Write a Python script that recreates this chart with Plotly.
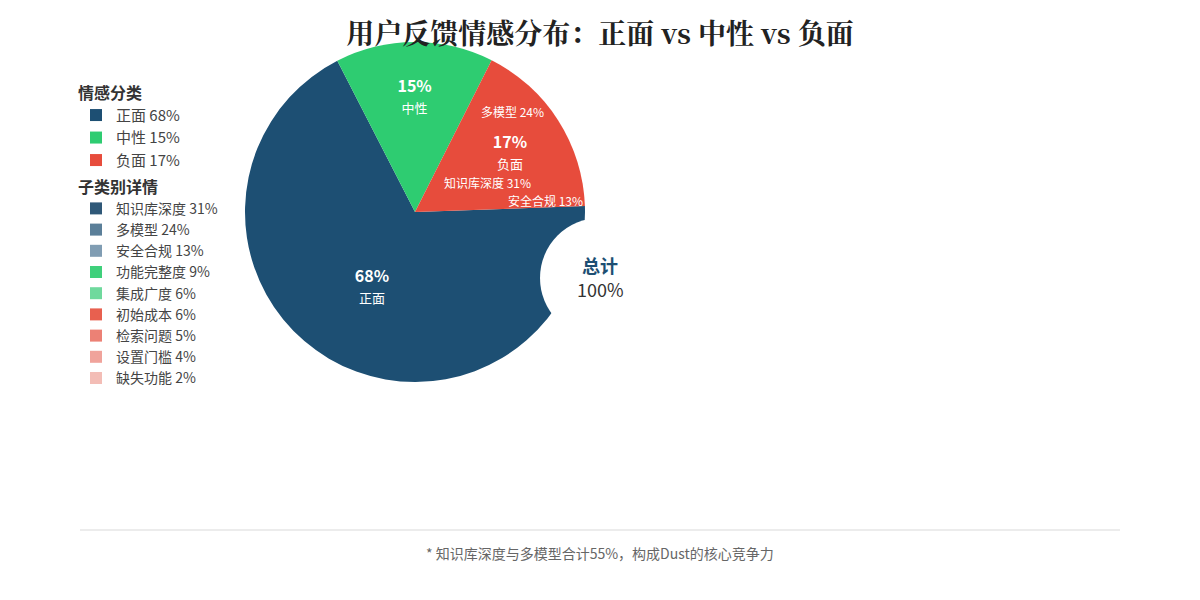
import plotly.graph_objects as go

# ---- data ----
sentiments = ["正面", "中性", "负面"]
sentiment_values = [68, 15, 17]
sentiment_colors = ["#1d4f73", "#2ecc71", "#e74c3c"]

subcategories = ["知识库深度", "多模型", "安全合规", "功能完整度", "集成广度",
                 "初始成本", "检索问题", "设置门槛", "缺失功能"]
sub_values = [31, 24, 13, 9, 6, 6, 5, 4, 2]
sub_colors = ["#2f5878", "#5b7f99", "#809db3", "#3fd07b", "#6fd99d",
              "#e8604f", "#ec8175", "#f0a39b", "#f3bdb6"]

title_text = "用户反馈情感分布：正面 vs 中性 vs 负面"
footnote = "* 知识库深度与多模型合计55%，构成Dust的核心竞争力"
center_title = "总计"
center_value = "100%"

W, H = 1200, 600
SANS = "Noto Sans CJK SC, Noto Sans, sans-serif"
SERIF = "Noto Serif CJK SC, Source Han Serif SC, serif"


def px_x(x):
    return x / W


def px_y(y):
    return 1 - y / H


fig = go.Figure()

# sub-category ring (legend2), centred on the "total" disc
cx2, cy2, r2 = 600, 278, 54
fig.add_trace(go.Pie(
    labels=[f"{n} {v}%" for n, v in zip(subcategories, sub_values)],
    values=sub_values,
    marker=dict(colors=sub_colors, line=dict(width=0)),
    sort=False, direction="clockwise", rotation=0,
    hole=0.6, textinfo="none", hoverinfo="label+percent",
    domain=dict(x=[px_x(cx2 - r2), px_x(cx2 + r2)], y=[px_y(cy2 + r2), px_y(cy2 - r2)]),
    legend="legend2", showlegend=True,
))

# main sentiment pie (legend)
cx, cy, r = 415, 212, 170
fig.add_trace(go.Pie(
    labels=[f"{n} {v}%" for n, v in zip(sentiments, sentiment_values)],
    values=sentiment_values,
    customdata=sentiments,
    marker=dict(colors=sentiment_colors, line=dict(width=0)),
    sort=False, direction="clockwise", rotation=88,
    texttemplate="<b>%{value}%</b><br><span style='font-size:13px'>%{customdata}</span>",
    textposition="inside", insidetextorientation="horizontal",
    textfont=dict(family=SANS, size=16, color="white"),
    hoverinfo="label+percent",
    domain=dict(x=[px_x(cx - r), px_x(cx + r)], y=[px_y(cy + r), px_y(cy - r)]),
    legend="legend", showlegend=True,
))

shapes = [
    dict(type="circle", xref="paper", yref="paper", layer="above",
         x0=px_x(cx2 - 60), x1=px_x(cx2 + 60), y0=px_y(cy2 + 60), y1=px_y(cy2 - 60),
         fillcolor="white", line=dict(width=0)),
    dict(type="line", xref="paper", yref="paper",
         x0=px_x(80), x1=px_x(1120), y0=px_y(530), y1=px_y(530),
         line=dict(color="#e6e6e6", width=1.5)),
]

annotations = [
    dict(text=f"<b>{center_title}</b>", x=px_x(600), y=px_y(265), xref="paper", yref="paper",
         yanchor="middle", showarrow=False, font=dict(family=SANS, size=18, color="#1d4f73")),
    dict(text=center_value, x=px_x(600), y=px_y(289), xref="paper", yref="paper",
         yanchor="middle", showarrow=False, font=dict(family=SANS, size=18, color="#333333")),
    dict(text=footnote, x=0.5, y=px_y(553), xref="paper", yref="paper",
         yanchor="middle", showarrow=False, font=dict(family=SANS, size=14, color="#666666")),
]
# sub-category labels shown on the chart (top three)
label_pos = [(487, 183), (512, 112), (545, 201)]
for (lx, ly), n, v in zip(label_pos, subcategories[:3], sub_values[:3]):
    annotations.append(dict(text=f"{n} {v}%", x=px_x(lx), y=px_y(ly), xref="paper", yref="paper",
                            yanchor="middle", showarrow=False,
                            font=dict(family=SANS, size=12, color="white")))

fig.update_layout(
    width=W, height=H,
    margin=dict(l=0, r=0, t=0, b=0),
    paper_bgcolor="white", plot_bgcolor="white",
    title=dict(text=f"<b>{title_text}</b>", x=0.5, xanchor="center", y=px_y(34), yanchor="middle",
               font=dict(family=SERIF, size=28, color="#222222")),
    legend=dict(title=dict(text="<b>情感分类</b>", font=dict(family=SANS, size=16, color="#333333")),
                x=px_x(76), y=px_y(78), xanchor="left", yanchor="top",
                font=dict(family=SANS, size=15, color="#444444"),
                bgcolor="rgba(0,0,0,0)", traceorder="normal"),
    legend2=dict(title=dict(text="<b>子类别详情</b>", font=dict(family=SANS, size=16, color="#333333")),
                 x=px_x(76), y=px_y(172), xanchor="left", yanchor="top",
                 font=dict(family=SANS, size=14, color="#444444"),
                 bgcolor="rgba(0,0,0,0)", traceorder="normal"),
    shapes=shapes,
    annotations=annotations,
)

fig.write_html("out.html")
